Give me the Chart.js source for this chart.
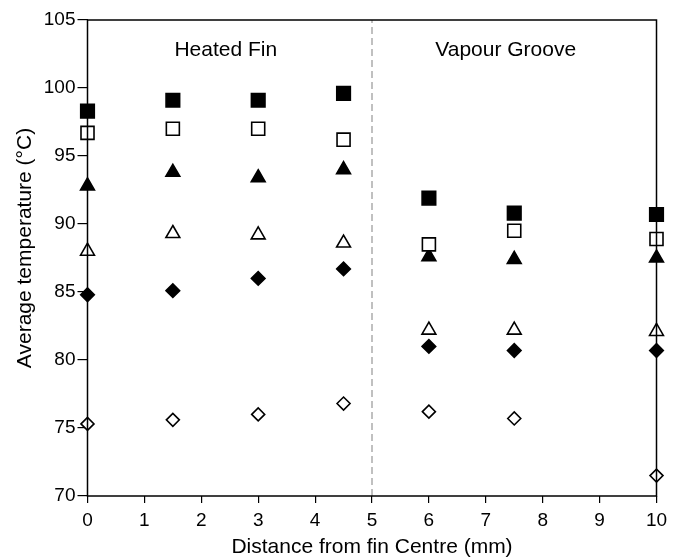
<!DOCTYPE html>
<html>
<head>
<meta charset="utf-8">
<script src="https://cdn.jsdelivr.net/npm/chart.js@4.4.0/dist/chart.umd.min.js"></script>
<style>
  html, body { margin: 0; padding: 0; background: #fff; }
  #wrap { width: 681px; height: 560px; }
</style>
</head>
<body>
<div id="wrap"><canvas id="chart"></canvas></div>
<script>
// distance from fin centre (mm)
const positions = [0, 1.5, 3, 4.5, 6, 7.5, 10];

// average temperatures, one array per marker type
const filledSquare   = [98.3, 99.1, 99.1, 99.6, 91.9, 90.8, 90.7];
const openSquare     = [96.7, 97.0, 97.0, 96.2, 88.5, 89.5, 88.9];
const filledTriangle = [92.8, 93.8, 93.4, 94.0, 87.6, 87.4, 87.5];
const openTriangle   = [88.0, 89.3, 89.2, 88.6, 82.2, 82.2, 82.1];
const filledDiamond  = [84.8, 85.1, 86.0, 86.7, 81.0, 80.7, 80.7];
const openDiamond    = [75.3, 75.6, 76.0, 76.8, 76.2, 75.7, 71.5];

// divider between the two regions
const dividerX = [5, 5];
const dividerY = [70, 105];

const regionNames = ['Heated Fin', 'Vapour Groove'];
const regionX = [2.43, 7.35];
const regionY = [102.75, 102.75];

const yTitle = 'Average temperature (°C)';

const FONT = '"Liberation Sans", Arial, sans-serif';

const pts = (ys) => positions.map((x, i) => ({ x, y: ys[i] }));

function marker(label, ys, style, radius, filled) {
  return {
    label,
    data: pts(ys),
    showLine: false,
    pointStyle: style,
    pointRadius: radius,
    pointHoverRadius: radius,
    pointBackgroundColor: filled ? '#000' : '#fff',
    pointBorderColor: '#000',
    pointBorderWidth: 1.6,
    clip: false,
  };
}

const boxAndLabels = {
  id: 'boxAndLabels',
  afterDatasetsDraw(c) {
    const { ctx, chartArea: a, scales } = c;
    ctx.save();
    ctx.strokeStyle = '#000';
    ctx.lineWidth = 1.5;
    ctx.strokeRect(a.left, a.top, a.right - a.left, a.bottom - a.top);
    ctx.fillStyle = '#000';
    ctx.font = '21px ' + FONT;
    ctx.textAlign = 'center';
    ctx.textBaseline = 'middle';
    regionNames.forEach((t, i) => {
      ctx.fillText(t, scales.x.getPixelForValue(regionX[i]), scales.y.getPixelForValue(regionY[i]));
    });
    // y axis title, sits a little above the axis middle in the original
    ctx.translate(25, (a.top + a.bottom) / 2 - 10);
    ctx.rotate(-Math.PI / 2);
    ctx.fillText(yTitle, 0, 0);
    ctx.restore();
  }
};

new Chart(document.getElementById('chart'), {
  type: 'scatter',
  data: {
    datasets: [
      {
        label: 'divider',
        type: 'line',
        data: dividerX.map((x, i) => ({ x, y: dividerY[i] })),
        borderColor: '#c0c0c0',
        borderWidth: 2,
        borderDash: [7, 4],
        pointRadius: 0,
        showLine: true,
        order: 10,
      },
      marker('filled square', filledSquare, 'rect', 9.6, true),
      marker('open square', openSquare, 'rect', 9.2, false),
      marker('filled triangle', filledTriangle, 'triangle', 8, true),
      marker('open triangle', openTriangle, 'triangle', 8, false),
      marker('filled diamond', filledDiamond, 'rectRot', 6.8, true),
      marker('open diamond', openDiamond, 'rectRot', 6.5, false),
    ]
  },
  options: {
    responsive: true,
    maintainAspectRatio: false,
    animation: false,
    layout: { padding: { top: 20, right: 24.5, left: 0, bottom: 0 } },
    plugins: { legend: { display: false }, tooltip: { enabled: false } },
    scales: {
      x: {
        type: 'linear',
        min: 0, max: 10,
        afterFit: (s) => { s.height = 64; },
        ticks: { stepSize: 1, color: '#000', font: { family: FONT, size: 19 }, padding: 6, maxRotation: 0 },
        grid: { drawOnChartArea: false, color: '#000', tickLength: 7, lineWidth: 1.2 },
        border: { display: false },
        title: { display: true, text: 'Distance from fin Centre (mm)', color: '#000', font: { family: FONT, size: 21 }, padding: { top: -3, bottom: 0 } },
      },
      y: {
        min: 70, max: 105,
        afterFit: (s) => { s.width = 87.5; },
        ticks: { stepSize: 5, color: '#000', font: { family: FONT, size: 19 }, padding: 2 },
        grid: { drawOnChartArea: false, color: '#000', tickLength: 10, lineWidth: 1.2 },
        border: { display: false },
        title: { display: false },
      }
    }
  },
  plugins: [boxAndLabels]
});
</script>
</body>
</html>
